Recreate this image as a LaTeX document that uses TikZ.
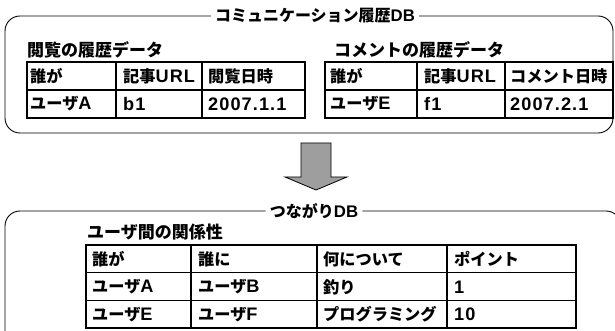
\documentclass[tikz,border=0pt]{standalone}
\usepackage{fontspec}
\setmainfont{Noto Sans CJK JP}
\newfontfamily\latf{Liberation Sans}[Scale=1.12, LetterSpace=6]
\newfontfamily\latt{Liberation Sans}[Scale=1.05]
\newcommand\Lt[1]{{\latf #1}}
\newcommand\Ltt[1]{{\latt #1}}
\begin{document}
\begin{tikzpicture}[x=1pt,y=-1pt,
  boxline/.style={line width=0.9pt, rounded corners=15pt},
  tabline/.style={line width=1.3pt},
  cell/.style={anchor=west, inner sep=0pt, font=\fontsize{16.2}{18}\selectfont\bfseries},
  lbl/.style={anchor=west, inner sep=0pt, font=\fontsize{17}{19}\selectfont\bfseries},
  ttl/.style={inner xsep=4pt, inner ysep=0pt, font=\fontsize{16}{18}\selectfont\bfseries},
  arrowfill/.style={fill=black!38, draw=black, line width=0.8pt, line join=miter}
]
\path[use as bounding box] (0,0) rectangle (615,331);
\clip (0,0) rectangle (615,331);

% ---------- top box ----------
\node[ttl] (t1) at (315,16) {コミュニケーション履歴\Ltt{DB}};
\draw[boxline] (t1.west) -- (5,16) -- (5,133) -- (613,133) -- (613,16) -- (t1.east);

% left table
\node[lbl] (l1) at (27,50) {閲覧の履歴データ};
\draw[tabline] (27,62) rectangle (305,118);
\draw[tabline] (27,90) -- (305,90);
\draw[tabline] (116,62) -- (116,118);
\draw[tabline] (202,62) -- (202,118);
\node[cell] (a11) at (30,76) {誰が};
\node[cell] (a12) at (123,76) {記事\Lt{URL}};
\node[cell] (a13) at (208,76) {閲覧日時};
\node[cell] (a21) at (30,104) {ユーザ\Lt{A}};
\node[cell] (a22) at (123,104) {\Lt{b1}};
\node[cell] (a23) at (208,104) {\Lt{2007.1.1}};

% right table
\node[lbl] (l2) at (334,50) {コメントの履歴データ};
\draw[tabline] (325,62) rectangle (613,118);
\draw[tabline] (325,90) -- (613,90);
\draw[tabline] (417,62) -- (417,118);
\draw[tabline] (505,62) -- (505,118);
\node[cell] (b11) at (330,76) {誰が};
\node[cell] (b12) at (424,76) {記事\Lt{URL}};
\node[cell] (b13) at (510,76) {コメント日時};
\node[cell] (b21) at (330,104) {ユーザ\Lt{E}};
\node[cell] (b22) at (424,104) {\Lt{f1}};
\node[cell] (b23) at (510,104) {\Lt{2007.2.1}};

% ---------- arrow ----------
\draw[arrowfill] (301,143) -- (331,143) -- (331,177) -- (347,177) -- (316,190)
  -- (285,177) -- (301,177) -- cycle;

% ---------- bottom box ----------
\node[ttl] (t2) at (314,211) {つながり\Ltt{DB}};
\draw[boxline] (t2.west) -- (5,211) -- (5,360) -- (621,360) -- (621,211) -- (t2.east);

\node[lbl] (l3) at (87,232) {ユーザ間の関係性};
\draw[tabline] (86,245) rectangle (576,328);
\draw[tabline] (86,272.5) -- (576,272.5);
\draw[tabline] (86,300.5) -- (576,300.5);
\draw[tabline] (191,245) -- (191,328);
\draw[tabline] (317,245) -- (317,328);
\draw[tabline] (447,245) -- (447,328);
\node[cell] (c11) at (92,259) {誰が};
\node[cell] (c12) at (198,259) {誰に};
\node[cell] (c13) at (323,259) {何について};
\node[cell] (c14) at (454,259) {ポイント};
\node[cell] (c21) at (92,287) {ユーザ\Lt{A}};
\node[cell] (c22) at (198,287) {ユーザ\Lt{B}};
\node[cell] (c23) at (323,287) {釣り};
\node[cell] (c24) at (454,287) {\Lt{1}};
\node[cell] (c31) at (92,314.5) {ユーザ\Lt{E}};
\node[cell] (c32) at (198,314.5) {ユーザ\Lt{F}};
\node[cell] (c33) at (323,314.5) {プログラミング};
\node[cell] (c34) at (454,314.5) {\Lt{10}};
\end{tikzpicture}
\end{document}
